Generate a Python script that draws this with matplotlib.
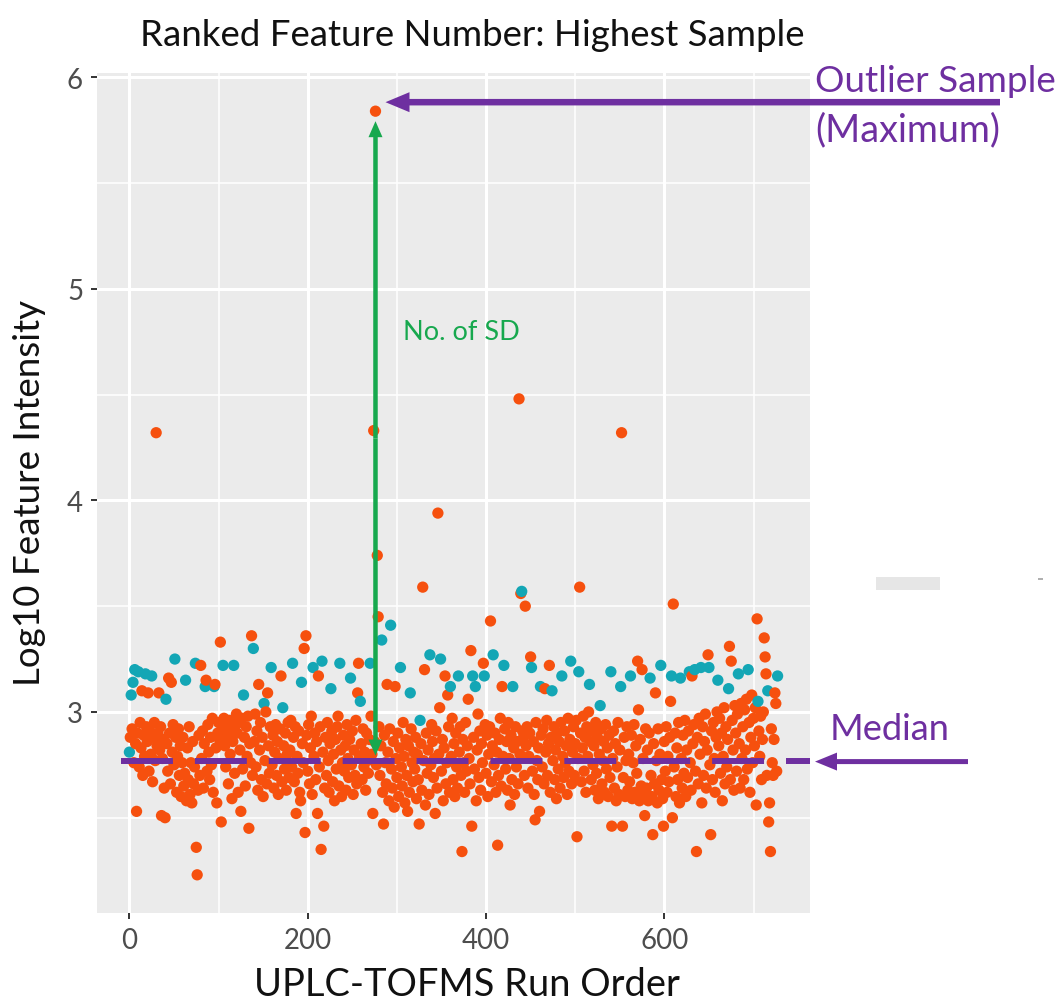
import matplotlib
matplotlib.use('Agg')
import matplotlib.pyplot as plt
from matplotlib.patches import Rectangle
import numpy as np

# log10 intensity of the feature, one value per injection (run order 0..727), 20 runs per row
log_intensity = [
    2.81, 2.88, 3.08, 2.92, 3.14, 2.76, 3.20, 2.85, 2.53, 2.90, 3.19, 2.74, 2.95, 2.83, 3.10, 2.70, 2.89, 2.79, 3.18, 2.93,  # 0
    2.86, 3.09, 2.72, 2.91, 2.80, 3.17, 2.67, 2.88, 2.95, 2.77, 4.32, 2.84, 2.90, 3.09, 2.82, 2.93, 2.51, 2.78, 2.87, 2.64,  # 20
    2.50, 3.06, 2.85, 2.72, 3.16, 2.90, 2.66, 3.14, 2.81, 2.94, 2.75, 3.25, 2.88, 2.62, 2.79, 2.92, 2.70, 2.84, 2.60, 2.76,  # 40
    2.88, 2.65, 2.71, 3.15, 2.58, 2.83, 2.68, 2.93, 2.61, 2.76, 2.57, 2.86, 2.66, 2.74, 3.23, 2.36, 2.23, 2.63, 2.89, 2.70,  # 60
    3.22, 2.78, 2.91, 2.64, 2.85, 3.12, 3.15, 2.72, 2.94, 2.81, 2.68, 2.88, 2.75, 2.97, 2.62, 3.12, 3.13, 2.83, 2.57, 2.90,  # 80
    2.95, 2.87, 3.33, 2.48, 2.92, 3.22, 2.97, 2.84, 2.74, 2.93, 2.88, 2.66, 2.96, 2.80, 2.91, 2.59, 2.86, 3.22, 2.71, 2.94,  # 100
    2.99, 2.90, 2.62, 2.95, 2.82, 2.53, 2.97, 2.73, 3.08, 2.88, 2.65, 2.93, 2.79, 2.98, 2.45, 2.85, 2.76, 3.36, 2.70, 3.30,  # 120
    2.86, 2.99, 2.74, 2.91, 2.63, 3.13, 2.82, 2.95, 2.68, 2.88, 2.60, 3.04, 2.77, 3.00, 2.66, 3.09, 2.84, 2.71, 2.93, 3.21,  # 140
    2.75, 2.89, 2.64, 2.81, 2.94, 2.70, 2.86, 2.61, 2.78, 2.92, 3.17, 2.67, 3.02, 2.84, 2.73, 2.90, 2.63, 2.80, 2.95, 2.69,  # 160
    2.82, 2.96, 2.74, 3.23, 2.88, 2.67, 2.93, 2.52, 2.79, 2.71, 2.91, 2.62, 2.58, 3.14, 2.85, 2.76, 3.30, 2.43, 3.36, 2.89,  # 180
    2.72, 2.94, 2.66, 2.83, 2.98, 2.61, 3.21, 2.79, 2.90, 2.68, 2.86, 2.52, 3.17, 2.74, 2.93, 2.35, 3.24, 2.81, 2.46, 2.64,  # 200
    2.88, 2.70, 2.95, 2.77, 2.62, 2.85, 3.11, 2.91, 2.67, 2.80, 2.58, 2.87, 2.73, 2.93, 2.98, 2.65, 3.23, 2.82, 2.60, 2.76,  # 220
    2.89, 2.72, 2.84, 2.63, 2.94, 2.78, 2.69, 2.87, 3.16, 2.75, 2.91, 2.61, 2.82, 2.70, 2.96, 2.66, 3.09, 3.23, 2.79, 3.05,  # 240
    2.85, 2.68, 2.92, 2.74, 2.81, 2.63, 2.90, 2.77, 2.71, 2.87, 3.23, 2.98, 2.80, 2.52, 4.33, 2.86, 5.84, 2.75, 3.74, 3.45,  # 260
    2.93, 2.70, 2.84, 3.34, 2.62, 2.47, 2.89, 2.76, 2.66, 3.13, 2.81, 2.58, 2.92, 3.41, 2.73, 2.64, 2.86, 2.55, 3.12, 2.78,  # 280
    2.69, 2.90, 2.60, 2.83, 3.21, 2.74, 2.65, 2.95, 2.79, 2.57, 2.87, 2.70, 2.53, 2.84, 2.62, 3.09, 2.92, 2.76, 2.67, 2.81,  # 300
    2.73, 2.88, 2.59, 2.80, 2.68, 2.47, 2.96, 2.85, 2.63, 3.59, 2.77, 3.20, 2.56, 2.90, 2.71, 2.82, 2.61, 3.27, 2.75, 2.94,  # 320
    2.86, 2.69, 2.78, 2.52, 2.91, 2.64, 3.94, 2.80, 3.02, 3.25, 2.72, 2.87, 2.58, 2.83, 3.17, 2.66, 2.76, 3.08, 2.93, 2.62,  # 340
    3.12, 2.79, 2.97, 2.68, 2.85, 2.60, 2.90, 2.74, 2.64, 3.17, 2.81, 2.93, 2.70, 2.34, 2.87, 2.76, 2.62, 2.95, 2.72, 2.84,  # 360
    3.06, 2.78, 2.66, 3.29, 2.46, 3.17, 2.88, 2.73, 3.12, 2.58, 2.82, 2.99, 2.69, 2.91, 2.63, 2.85, 2.76, 3.23, 3.17, 2.94,  # 380
    2.71, 2.89, 2.60, 2.80, 2.93, 3.43, 2.67, 2.84, 3.27, 2.75, 2.90, 2.62, 2.81, 2.37, 2.70, 2.87, 2.97, 2.65, 3.12, 2.79,  # 400
    3.22, 2.92, 2.73, 2.86, 2.63, 2.95, 2.78, 2.56, 2.89, 2.68, 3.12, 2.83, 2.61, 2.93, 2.74, 2.86, 2.66, 4.48, 2.80, 3.56,  # 420
    3.57, 2.91, 2.88, 2.70, 3.50, 2.84, 2.93, 2.64, 2.79, 2.90, 3.26, 3.21, 2.72, 2.86, 2.61, 2.49, 2.95, 2.77, 2.68, 2.83,  # 440
    2.53, 3.12, 2.89, 2.74, 2.92, 2.66, 3.11, 2.81, 2.96, 2.70, 2.85, 3.22, 2.62, 2.88, 3.10, 2.77, 2.93, 2.68, 2.82, 2.59,  # 460
    2.90, 2.73, 2.86, 2.64, 2.95, 3.17, 2.79, 2.69, 2.91, 2.76, 2.84, 2.61, 2.97, 2.72, 2.87, 3.24, 2.66, 2.81, 2.93, 2.70,  # 480
    2.85, 2.96, 2.41, 2.78, 3.19, 3.59, 2.90, 2.67, 2.83, 2.98, 2.72, 2.88, 2.62, 2.93, 2.79, 3.00, 3.13, 2.86, 2.68, 2.91,  # 500
    2.75, 2.84, 2.63, 2.95, 2.71, 2.88, 2.59, 2.80, 3.03, 2.92, 2.66, 2.77, 2.86, 2.62, 2.94, 2.73, 2.83, 2.60, 2.89, 2.69,  # 520
    3.19, 2.46, 2.78, 2.91, 2.64, 2.85, 2.58, 2.74, 2.95, 2.61, 2.82, 3.12, 4.32, 2.46, 2.69, 2.88, 2.60, 2.77, 2.93, 2.63,  # 540
    2.80, 2.67, 3.17, 2.89, 2.59, 2.76, 2.94, 2.62, 2.84, 2.71, 3.24, 3.01, 2.58, 2.87, 2.65, 3.20, 2.78, 2.61, 2.51, 2.92,  # 560
    2.64, 2.82, 2.58, 2.90, 3.16, 2.70, 2.60, 2.42, 2.85, 2.66, 3.09, 2.77, 2.57, 2.92, 2.63, 2.80, 3.22, 2.68, 2.59, 2.46,  # 580
    2.86, 2.72, 2.93, 2.62, 2.79, 2.67, 2.88, 3.05, 3.17, 2.50, 3.51, 2.74, 2.90, 2.60, 2.83, 2.68, 2.95, 2.57, 3.16, 2.78,  # 600
    2.64, 2.89, 2.71, 2.96, 2.60, 2.82, 2.69, 2.91, 3.19, 2.76, 2.63, 3.17, 2.85, 2.94, 3.20, 2.72, 2.34, 2.88, 2.66, 2.97,  # 620
    2.80, 3.21, 2.57, 2.93, 2.70, 2.86, 2.99, 2.64, 2.82, 3.27, 3.21, 2.75, 2.42, 2.91, 2.68, 2.95, 2.78, 2.62, 2.88, 3.00,  # 640
    3.15, 2.84, 2.97, 2.71, 2.90, 2.58, 2.79, 3.02, 2.66, 2.93, 2.74, 2.87, 3.11, 3.31, 2.68, 3.24, 2.96, 2.82, 2.63, 3.03,  # 660
    2.90, 2.72, 2.99, 3.18, 2.85, 2.64, 3.04, 2.78, 2.93, 2.68, 3.01, 2.82, 3.06, 2.73, 3.20, 2.95, 2.62, 2.88, 3.08, 2.76,  # 680
    2.97, 2.84, 3.02, 2.56, 3.44, 3.05, 2.91, 2.79, 2.98, 2.68, 2.87, 3.00, 3.35, 3.26, 3.18, 2.70, 3.10, 2.48, 2.57, 2.34,  # 700
    2.92, 2.76, 2.70, 2.87, 3.09, 3.04, 2.72, 3.17,                                                                      # 720
]

# run orders of the pooled QC injections (teal)
qc_runs = [0, 2, 4, 6, 10, 18, 25, 41, 51, 63, 74, 85, 95, 105, 117, 128, 139, 151, 159, 172,
           183, 193, 206, 216, 226, 236, 248, 259, 270, 283, 293, 304, 315, 326, 337, 349, 360,
           369, 385, 388, 398, 408, 420, 430, 440, 451, 461, 474, 485, 495, 504, 516, 528, 540,
           551, 562, 584, 596, 608, 618, 628, 634, 641, 650, 660, 672, 683, 694, 705, 716, 727]

median_level = 2.77

x_ticks = [0, 200, 400, 600]
y_ticks = [3, 4, 5, 6]

#%% style
W, H = 1059, 1004
sample_col = '#F6500E'
qc_col = '#13A6B5'
purple = '#6E2FA0'
green = '#17A84E'
plt.rcParams.update({
    'font.family': ['Lato', 'DejaVu Sans'],
    'lines.scale_dashes': False,
})

fig = plt.figure(figsize=(W / 100, H / 100), dpi=100)
ax = fig.add_axes([97 / W, 1 - 914 / H, 713 / W, 840 / H])

run_order = np.arange(len(log_intensity))
vals = np.array(log_intensity)
is_qc = np.isin(run_order, qc_runs)
colours = np.where(is_qc, qc_col, sample_col)

ax.scatter(run_order, vals, c=colours, s=66, linewidths=0, zorder=3)

# ggplot-like 5% expansion
xr = run_order.max() - run_order.min()
yr = vals.max() - vals.min()
ax.set_xlim(run_order.min() - 0.05 * xr, run_order.max() + 0.05 * xr)
ax.set_ylim(vals.min() - 0.05 * yr, vals.max() + 0.05 * yr)

ax.set_facecolor('#EBEBEB')
for s in ax.spines.values():
    s.set_visible(False)
ax.set_xticks(x_ticks)
ax.set_yticks(y_ticks)
ax.set_xticks([100, 300, 500, 700], minor=True)
ax.set_yticks([2.5, 3.5, 4.5, 5.5], minor=True)
ax.grid(which='major', color='white', lw=2.2, zorder=0)
ax.grid(which='minor', color='white', lw=1.1, zorder=0)
ax.set_axisbelow(True)
ax.tick_params(which='major', length=4, width=1.4, color='#333333', labelcolor='#4D4D4D',
               labelsize=19, pad=6)
ax.tick_params(which='minor', length=0)

# median line
ax.plot([-9, ax.get_xlim()[1]], [median_level, median_level], color=purple, lw=4.3,
        dashes=(37.4, 15.8), zorder=4, solid_capstyle='butt', dash_capstyle='butt')

#%% overlay in pixel coordinates for arrows / notes
ov = fig.add_axes([0, 0, 1, 1], facecolor='none')
ov.set_xlim(0, W)
ov.set_ylim(H, 0)
ov.axis('off')
ov.set_zorder(10)

def to_px(x, y):
    px, py = ax.transData.transform((x, y))
    return px, H - py

i_max = int(np.argmax(vals))
ox, oy = to_px(run_order[i_max], vals[i_max])
mx, my = to_px(run_order[i_max], median_level)

# green double arrow between median and maximum
top_y, bot_y = oy + 10, my - 5
mid = (top_y + bot_y) / 2
ov.arrow(ox, mid, 0, top_y - mid, width=4.5, head_width=14, head_length=16,
         length_includes_head=True, color=green, lw=0)
ov.arrow(ox, mid, 0, bot_y - mid, width=4.5, head_width=14, head_length=16,
         length_includes_head=True, color=green, lw=0)

# purple arrow to outlier
ov.arrow(1000, oy - 9, (ox + 10) - 1000, 0, width=6.5, head_width=20, head_length=24,
         length_includes_head=True, color=purple, lw=0)
# purple arrow to median
ov.arrow(968, my + 1, 815 - 968, 0, width=5, head_width=18, head_length=22,
         length_includes_head=True, color=purple, lw=0)

# stray grey mark at right
ov.add_patch(Rectangle((876, 578), 64, 13, color='#E6E6E6', lw=0))
ov.add_patch(Rectangle((1038, 579), 5, 2, color='#B0B0B0', lw=0))

texts = []
t = ov.text(472, 35, 'Ranked Feature Number: Highest Sample', ha='center', va='center',
            color='#111111', fontsize=24)
texts.append((t, 665, False))
t = ov.text(30, 493, 'Log10 Feature Intensity', ha='center', va='center', rotation=90,
            color='#111111', fontsize=22)
texts.append((t, 385, True))
t = ov.text(467, 985, 'UPLC-TOFMS Run Order', ha='center', va='center',
            color='#111111', fontsize=22)
texts.append((t, 425, False))
t = ov.text(815, 82, 'Outlier Sample', ha='left', va='center', color=purple, fontsize=22)
texts.append((t, 240, False))
t = ov.text(815, 130, '(Maximum)', ha='left', va='center', color=purple, fontsize=22)
texts.append((t, 185, False))
t = ov.text(830, 730, 'Median', ha='left', va='center', color=purple, fontsize=22)
texts.append((t, 120, False))
t = ov.text(403, 333, 'No. of SD', ha='left', va='center', color=green, fontsize=14)
texts.append((t, 117, False))

fig.canvas.draw()
r = fig.canvas.get_renderer()
for t, target, vert in texts:
    bb = t.get_window_extent(r)
    cur = bb.height if vert else bb.width
    t.set_fontsize(t.get_fontsize() * target / cur)

# tick label size from the width of "600"
lab = ax.get_xticklabels()[-1]
w600 = lab.get_window_extent(r).width
ax.tick_params(labelsize=19 * 48 / w600)

fig.savefig('out.png', dpi=100, facecolor='white')
